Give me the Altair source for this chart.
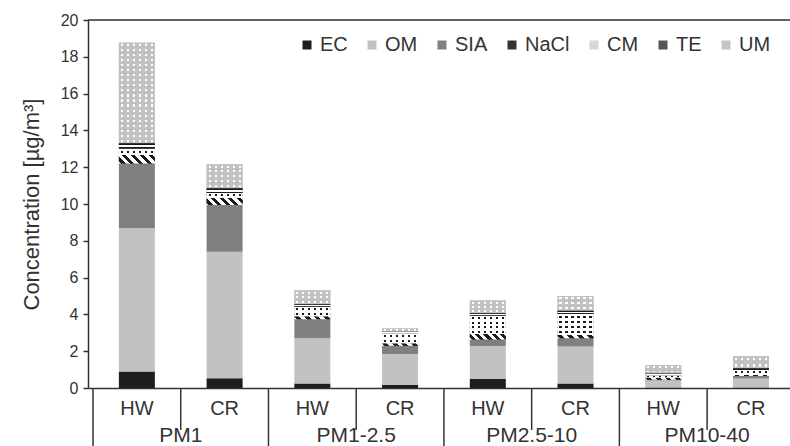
import altair as alt
import pandas as pd

# Size fractions and sampling sites
groups = ["PM1", "PM1-2.5", "PM2.5-10", "PM10-40"]
sites = ["HW", "CR"]
components = ["EC", "OM", "SIA", "NaCl", "CM", "TE", "UM"]

# Mass concentration of each component [µg/m3], one entry per bar:
# PM1 HW, PM1 CR, PM1-2.5 HW, PM1-2.5 CR, PM2.5-10 HW, PM2.5-10 CR, PM10-40 HW, PM10-40 CR
ec = [0.89, 0.53, 0.25, 0.16, 0.49, 0.25, 0.03, 0.03]
om = [7.79, 6.88, 2.45, 1.69, 1.79, 2.00, 0.38, 0.49]
sia = [3.52, 2.54, 1.04, 0.45, 0.36, 0.45, 0.04, 0.13]
nacl = [0.46, 0.38, 0.16, 0.13, 0.29, 0.18, 0.12, 0.06]
cm = [0.34, 0.27, 0.51, 0.54, 1.00, 1.14, 0.12, 0.27]
te = [0.30, 0.26, 0.14, 0.09, 0.13, 0.18, 0.10, 0.09]
um = [5.47, 1.30, 0.76, 0.18, 0.69, 0.80, 0.45, 0.67]

series = [ec, om, sia, nacl, cm, te, um]
# plain fills, also used for the legend swatches
solid = ["#1f1d1e", "#c2c2c2", "#808080", "#333333", "#d6d6d6", "#555555", "#c4c4c4"]

rows = []
for ci, (name, vals) in enumerate(zip(components, series)):
    for i, v in enumerate(vals):
        rows.append({"pos": i, "component": name, "order": ci, "value": v})
df = pd.DataFrame(rows)

n_bars = len(groups) * len(sites)
site_df = pd.DataFrame({
    "pos": list(range(n_bars)),
    "site": [s for _ in groups for s in sites],
})
group_df = pd.DataFrame({
    "gpos": [g * len(sites) + (len(sites) - 1) / 2 for g in range(len(groups))],
    "group": groups,
})
bounds = [b - 0.5 for b in range(n_bars)]
outer_df = pd.DataFrame({"b": [b for b in bounds if round(b + 0.5) % len(sites) == 0]})
inner_df = pd.DataFrame({"b": [b for b in bounds if round(b + 0.5) % len(sites) != 0]})

W, H = 702, 368
Y_MAX = 20
BAR_W = 36
PX = H / Y_MAX
FONT = "Liberation Sans"
INK = "#333333"
CLEAR = "rgba(255,255,255,0)"

xscale = alt.Scale(domain=[-0.5, -0.5 + W / 89], nice=False, zero=False)
yscale = alt.Scale(domain=[0, Y_MAX], nice=False)
xaxis = alt.Axis(labels=False, ticks=False, grid=False, title=None,
                 domainColor=INK, domainWidth=1.5)
yaxis = alt.Axis(values=list(range(0, Y_MAX + 1, 2)), grid=False,
                 title="Concentration [µg/m³]", titleFont=FONT,
                 titleFontSize=22, titleFontWeight="normal",
                 titleColor=INK, titlePadding=17,
                 labelFont=FONT, labelFontSize=16, labelColor=INK,
                 labelPadding=5, tickSize=5, tickColor=INK,
                 tickWidth=1.5, domainColor=INK, domainWidth=1.5)

stacked = alt.Chart(df).transform_stack(
    stack="value", groupby=["pos"], sort=[alt.SortField("order")], as_=["y0", "y1"]
)

bars = stacked.mark_bar(size=BAR_W).encode(
    x=alt.X("pos:Q", scale=xscale, axis=xaxis),
    y=alt.Y("y0:Q", scale=yscale, axis=yaxis),
    y2="y1:Q",
    color=alt.Color("component:N",
                    scale=alt.Scale(domain=components, range=solid),
                    sort=components,
                    legend=alt.Legend(orient="none", legendX=209, legendY=15,
                                      direction="horizontal", columns=7,
                                      title=None, symbolType="square",
                                      symbolSize=81, symbolStrokeWidth=0,
                                      labelFont=FONT, labelFontSize=20,
                                      labelColor=INK, labelOffset=3,
                                      columnPadding=14)),
)


def bands(n, on_frac, on, off):
    """Gradient stops for n repeated bands, each with a centred 'on' part."""
    stops = []
    edge = (1 - on_frac) / 2 / n
    for k in range(n):
        a, e = k / n, (k + 1) / n
        stops += [
            {"offset": a, "color": off}, {"offset": a + edge, "color": off},
            {"offset": a + edge, "color": on}, {"offset": e - edge, "color": on},
            {"offset": e - edge, "color": off}, {"offset": e, "color": off},
        ]
    return stops


def segment(name, i, fill):
    return stacked.transform_filter(
        (alt.datum.component == name) & (alt.datum.pos == i)
    ).mark_bar(size=BAR_W, fill=fill).encode(
        x=alt.X("pos:Q", scale=xscale, axis=xaxis),
        y=alt.Y("y0:Q", scale=yscale, axis=yaxis),
        y2="y1:Q",
    )


def component_layer(name, fill):
    return stacked.transform_filter(alt.datum.component == name).mark_bar(
        size=BAR_W, fill=fill
    ).encode(
        x=alt.X("pos:Q", scale=xscale, axis=xaxis),
        y=alt.Y("y0:Q", scale=yscale, axis=yaxis),
        y2="y1:Q",
    )


pattern_layers = []

# NaCl: black/white stripes at 45 degrees
for i, v in enumerate(nacl):
    h = max(v * PX, 0.5)
    s = (BAR_W + h) * BAR_W * h / (BAR_W ** 2 + h ** 2)
    n = max(1, round((BAR_W + h) / 9))
    pattern_layers.append(segment("NaCl", i, {
        "gradient": "linear", "x1": 0, "y1": 1, "x2": s / h, "y2": 1 - s / BAR_W,
        "stops": bands(n, 0.5, "#1a1a1a", "#ffffff"),
    }))

# CM: black dots on white (dark rows, then white columns with clear gaps)
for i, v in enumerate(cm):
    n = max(1, round(v * PX / 5))
    pattern_layers.append(segment("CM", i, {
        "gradient": "linear", "x1": 0, "y1": 0, "x2": 0, "y2": 1,
        "stops": bands(n, 0.42, "#1a1a1a", "#ffffff"),
    }))
pattern_layers.append(component_layer("CM", {
    "gradient": "linear", "x1": 0, "y1": 0, "x2": 1, "y2": 0,
    "stops": bands(6, 0.36, CLEAR, "#ffffff"),
}))

# UM: white dots on grey
for i, v in enumerate(um):
    n = max(1, round(v * PX / 5))
    pattern_layers.append(segment("UM", i, {
        "gradient": "linear", "x1": 0, "y1": 0, "x2": 0, "y2": 1,
        "stops": bands(n, 0.42, "#ffffff", "#c2c2c2"),
    }))
pattern_layers.append(component_layer("UM", {
    "gradient": "linear", "x1": 0, "y1": 0, "x2": 1, "y2": 0,
    "stops": bands(6, 0.36, CLEAR, "#c2c2c2"),
}))

# TE: white band framed by black lines
pattern_layers.append(component_layer("TE", {
    "gradient": "linear", "x1": 0, "y1": 0, "x2": 0, "y2": 1,
    "stops": [
        {"offset": 0, "color": "#1a1a1a"}, {"offset": 0.3, "color": "#1a1a1a"},
        {"offset": 0.3, "color": "#ffffff"}, {"offset": 0.7, "color": "#ffffff"},
        {"offset": 0.7, "color": "#1a1a1a"}, {"offset": 1, "color": "#1a1a1a"},
    ],
}))

inner_rules = alt.Chart(inner_df).mark_rule(color=INK, strokeWidth=1.5).encode(
    x=alt.X("b:Q", scale=xscale, axis=xaxis),
    y=alt.value(H), y2=alt.value(H + 42),
)
outer_rules = alt.Chart(outer_df).mark_rule(color=INK, strokeWidth=1.5).encode(
    x=alt.X("b:Q", scale=xscale, axis=xaxis),
    y=alt.value(H), y2=alt.value(H + 80),
)
top_rule = alt.Chart(pd.DataFrame({"t": [Y_MAX]})).mark_rule(
    color=INK, strokeWidth=1.5
).encode(
    y=alt.Y("t:Q", scale=yscale, axis=yaxis), x=alt.value(0), x2=alt.value(W),
)

site_text = alt.Chart(site_df).mark_text(
    font=FONT, fontSize=20, color=INK, baseline="middle"
).encode(
    x=alt.X("pos:Q", scale=xscale, axis=xaxis), y=alt.value(H + 21), text="site:N"
)
group_text = alt.Chart(group_df).mark_text(
    font=FONT, fontSize=21, color=INK, baseline="middle"
).encode(
    x=alt.X("gpos:Q", scale=xscale, axis=xaxis), y=alt.value(H + 48), text="group:N"
)

chart = alt.layer(
    bars, *pattern_layers,
    inner_rules, outer_rules, top_rule, site_text, group_text,
).properties(
    width=W, height=H,
    padding={"left": 88, "top": 20, "right": 0, "bottom": 58},
    autosize=alt.AutoSizeParams(type="none"),
).configure_view(stroke=None).configure(background="white")

chart.save("out.html", embed_options={"renderer": "svg", "actions": False})
